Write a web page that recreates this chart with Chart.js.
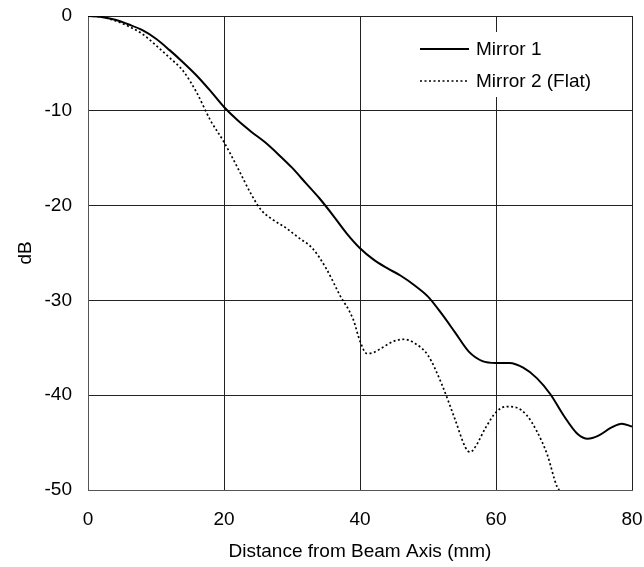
<!DOCTYPE html>
<html>
<head>
<meta charset="utf-8">
<script src="https://cdn.jsdelivr.net/npm/chart.js@4/dist/chart.umd.min.js"></script>
<style>
  html, body { margin: 0; padding: 0; background: #fff; }
  #wrap { width: 644px; height: 567px; position: relative; }
</style>
</head>
<body>
<div id="wrap"><canvas id="beamChart"></canvas></div>
<script>
// values
const mirror1X = [0, 2, 4, 6, 8, 10, 12, 14, 16, 18, 20, 22, 24, 26, 28, 30, 32, 34, 36, 38, 40,
  42, 44, 46, 48, 50, 52, 54, 56, 58, 60, 62, 64, 66, 68, 70, 72, 73.5, 75, 77, 78.5, 80]
const mirror1Y = [0, -0.1, -0.4, -0.9, -1.5, -2.4, -3.6, -4.9, -6.3, -7.9, -9.6, -11.0, -12.2, -13.3,
  -14.6, -16.0, -17.6, -19.2, -21.0, -22.9, -24.5, -25.7, -26.6, -27.4, -28.4, -29.6, -31.4, -33.4,
  -35.4, -36.4, -36.6, -36.6, -37.1, -38.2, -39.9, -42.2, -44.1, -44.6, -44.3, -43.4, -43.0, -43.3]

const mirror2X = [0, 2, 4, 6, 8, 10, 12, 14, 16, 18, 20, 22, 24, 25.5, 27, 29, 31, 33, 35, 37, 39,
  40, 41, 42, 43, 45, 46.5, 48, 50, 52, 54, 55.5, 56.2, 57, 58.5, 60, 61.5, 63, 64.5, 66, 67.5, 69, 69.3]
const mirror2Y = [0, -0.1, -0.5, -1.1, -1.9, -3.1, -4.4, -5.8, -8.1, -11.0, -13.3, -16.0, -18.8,
  -20.5, -21.4, -22.3, -23.4, -24.5, -26.6, -29.4, -32.0, -34.3, -35.6, -35.5, -35.1, -34.3, -34.1,
  -34.5, -35.8, -38.8, -42.6, -45.5, -46.0, -45.4, -43.4, -41.8, -41.2, -41.3, -42.1, -43.8, -46.2,
  -49.7, -50]

const seriesNames = ['Mirror 1', 'Mirror 2 (Flat)']
const xTicks = [0, 20, 40, 60, 80]
const yTicks = [0, -10, -20, -30, -40, -50]

const FONT = 'Liberation Sans, Arial, Helvetica, sans-serif'

function toPoints(xs, ys) {
  return xs.map((x, i) => ({ x: x, y: ys[i] }))
}

// legend drawn inside the plot, on a white patch like the original
const innerLegend = {
  id: 'innerLegend',
  afterDatasetsDraw(chart) {
    const ctx = chart.ctx
    const area = chart.chartArea
    const right = area.right - 2
    const boxLeft = right - 218
    ctx.save()
    ctx.fillStyle = '#fff'
    ctx.fillRect(boxLeft, area.top + 16, 218, 65)
    ctx.font = '19px ' + FONT
    ctx.textBaseline = 'middle'
    ctx.fillStyle = '#000'
    chart.data.datasets.forEach((ds, i) => {
      const y = area.top + 33 + i * 32
      ctx.beginPath()
      ctx.strokeStyle = ds.borderColor
      ctx.lineWidth = ds.borderWidth
      ctx.setLineDash(ds.borderDash || [])
      ctx.moveTo(boxLeft + 8, y)
      ctx.lineTo(boxLeft + 57, y)
      ctx.stroke()
      ctx.setLineDash([])
      ctx.fillText(ds.label, boxLeft + 64, y + 1)
    })
    ctx.restore()
  }
}

new Chart(document.getElementById('beamChart'), {
  type: 'line',
  data: {
    datasets: [
      {
        label: seriesNames[0],
        data: toPoints(mirror1X, mirror1Y),
        borderColor: '#000',
        borderWidth: 2,
        pointRadius: 0,
        tension: 0.4,
        cubicInterpolationMode: 'monotone'
      },
      {
        label: seriesNames[1],
        data: toPoints(mirror2X, mirror2Y),
        borderColor: '#000',
        borderWidth: 1.7,
        borderDash: [2, 2.5],
        pointRadius: 0,
        tension: 0.4,
        cubicInterpolationMode: 'monotone'
      }
    ]
  },
  options: {
    responsive: true,
    maintainAspectRatio: false,
    animation: false,
    layout: { padding: { top: 16, right: 12, left: 0, bottom: 0 } },
    plugins: {
      legend: { display: false },
      tooltip: { enabled: false }
    },
    scales: {
      x: {
        type: 'linear',
        min: 0,
        max: 80,
        afterBuildTicks: (scale) => { scale.ticks = xTicks.map(v => ({ value: v })) },
        afterFit: (scale) => {
          scale.height = 77
          scale.paddingLeft = 0
          scale.paddingRight = 0
        },
        ticks: { padding: 18, color: '#000', font: { family: FONT, size: 19 } },
        grid: { color: '#222', lineWidth: 1, drawTicks: false },
        border: { color: '#555', width: 1 },
        title: {
          display: true,
          text: 'Distance from Beam Axis (mm)',
          color: '#000',
          font: { family: FONT, size: 19 },
          padding: { top: 8, bottom: 4 }
        }
      },
      y: {
        min: -50,
        max: 0,
        afterBuildTicks: (scale) => { scale.ticks = yTicks.map(v => ({ value: v })) },
        afterFit: (scale) => {
          scale.width = 88
          scale.paddingTop = 0
          scale.paddingBottom = 0
        },
        ticks: { padding: 16, color: '#000', font: { family: FONT, size: 19 } },
        grid: { color: '#222', lineWidth: 1, drawTicks: false },
        border: { color: '#555', width: 1 },
        title: {
          display: true,
          text: 'dB',
          color: '#000',
          font: { family: FONT, size: 19 },
          padding: { top: 14, bottom: 0 }
        }
      }
    }
  },
  plugins: [innerLegend]
})
</script>
</body>
</html>
